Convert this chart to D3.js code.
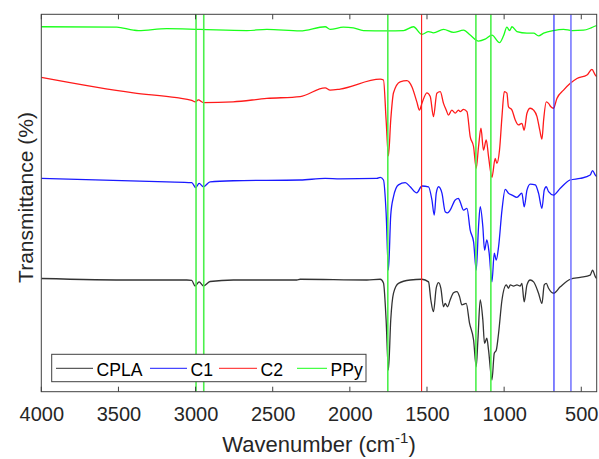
<!DOCTYPE html>
<html>
<head>
<meta charset="utf-8">
<script src="https://cdn.jsdelivr.net/npm/d3@7"></script>
<style>
  html, body { margin: 0; padding: 0; background: #fff; }
  text { font-family: "Liberation Sans", Arial, Helvetica, sans-serif; }
</style>
</head>
<body>
<svg id="chart" width="599" height="459"></svg>
<script>
// ---------------- data ----------------
const xTicks = [4000, 3500, 3000, 2500, 2000, 1500, 1000, 500];

const seriesNames = ["CPLA", "C1", "C2", "PPy"];
const seriesColors = ["#333333", "#1a1aff", "#ff1a1a", "#1aff1a"];

const wnCPLA = [4000,3403,3057,3025,3003,2977,2949,2906,2755,2344,2322,1890,1803,1782,1765,1750,1735,1717,1685,1609,1533,1490,1475,1458,1440,1425,1410,1393,1382,1367,1350,1328,1306,1289,1274,1246,1224,1198,1181,1170,1155,1138,1127,1112,1101,1079,1064,1051,1036,1014,986,972,960,939,917,896,885,870,852,831,809,777,755,740,727,712,680,636,571,507,442,427,409,400];
const tCPLA = [30.0,29.6,29.6,29.5,28.0,29.1,28.0,29.2,29.6,29.6,29.8,29.6,29.8,28.8,19.0,5.7,19.0,26.1,28.7,29.6,29.8,29.1,24.3,21.2,27.5,28.9,27.4,22.5,23.4,22.5,24.3,26.2,26.5,25.2,23.0,23.4,18.1,13.7,6.6,13.7,24.3,19.0,12.8,14.2,11.0,3.1,10.2,11.0,15.5,24.3,28.3,27.4,28.3,28.0,28.3,28.0,28.7,23.8,28.3,29.6,29.1,26.1,23.4,28.3,28.7,27.4,26.1,27.8,29.8,30.3,30.9,32.2,30.5,30.0];

const wnC1 = [4000,3187,3025,2999,2977,2949,2906,2755,2322,2160,2063,1825,1803,1782,1765,1750,1735,1717,1685,1641,1609,1566,1533,1490,1468,1453,1440,1425,1403,1382,1367,1350,1317,1296,1285,1263,1241,1220,1198,1181,1166,1155,1138,1127,1112,1097,1079,1064,1051,1036,1014,993,972,949,917,885,870,852,831,798,777,755,740,727,712,680,636,571,507,442,427,409,400];
const tC1 = [56.5,55.6,55.4,54.1,55.2,54.3,55.6,55.9,56.1,56.5,56.4,56.5,56.8,56.1,47.4,32.2,46.8,51.7,54.8,55.4,54.3,52.7,54.5,54.3,50.8,46.8,52.6,54.3,52.6,47.7,47.4,48.1,50.8,51.2,50.3,48.1,48.6,42.8,39.7,32.2,43.7,49.0,43.7,37.5,40.2,36.7,29.1,36.7,34.9,38.4,48.1,53.6,52.6,52.1,51.5,52.6,49.0,53.4,55.0,54.8,52.6,48.6,53.4,54.3,53.0,52.1,53.9,56.1,56.5,57.4,58.6,57.4,57.0];

const wnC2 = [4000,3403,3122,3025,3003,2982,2949,2757,2538,2322,2160,2128,2063,1803,1782,1765,1750,1735,1717,1674,1630,1598,1566,1549,1533,1501,1479,1458,1436,1414,1393,1375,1361,1339,1317,1296,1285,1263,1241,1220,1198,1181,1166,1150,1134,1116,1101,1079,1058,1047,1030,1014,999,982,972,949,928,907,885,870,852,831,809,787,769,755,744,727,712,697,680,658,615,571,528,463,431,409,400];
const tC2 = [83.3,79.2,77.9,77.2,76.8,77.3,76.6,76.8,77.7,78.2,80.5,79.9,80.2,82.8,82.6,72.0,62.5,72.0,79.2,82.1,82.4,80.8,76.8,74.6,76.4,79.2,78.2,72.9,79.1,79.5,76.4,74.6,73.3,74.6,73.8,74.6,74.2,74.8,74.2,67.6,64.9,59.2,64.9,69.8,64.0,66.7,62.3,56.8,61.8,60.5,64.0,72.9,79.5,79.1,75.5,74.6,72.0,70.7,71.1,69.3,73.8,75.1,74.6,72.9,69.3,66.9,72.0,76.8,76.4,75.5,75.1,77.7,79.9,81.7,83.0,83.9,85.4,83.9,83.5];

const wnPPy = [4000,3511,3403,3371,3187,2971,2668,2538,2322,2160,2128,2042,1977,1912,1760,1652,1588,1533,1490,1458,1393,1328,1263,1220,1166,1123,1079,1030,1004,982,965,949,917,852,809,777,744,680,615,560,485,442,409,400];
const tPPy = [96.7,96.6,95.8,95.7,96.2,96.0,95.7,96.0,95.6,96.7,96.0,96.6,96.4,95.7,95.6,95.7,96.7,94.7,95.4,95.1,96.0,95.2,95.8,94.5,92.9,93.4,94.5,92.5,94.3,96.6,95.7,96.7,95.4,95.0,95.0,94.3,95.0,95.7,96.0,95.7,95.8,96.3,96.9,97.0];

// reference (marker) lines
const greenMarks = [2997, 2947, 1754, 1183, 1086];
const redMarks = [1535];
const blueMarks = [677];
const lightBlueMarks = [567];

// ---------------- layout ----------------
const svg = d3.select("#chart");
const L = 41.3, R = 596.7, T = 14.3, B = 391.7;
const x = d3.scaleLinear().domain([4000, 400]).range([L, R]);
const y = d3.scaleLinear().domain([0, 100]).range([B, T]);
const axisColor = "#404040";
const textColor = "#262626";

svg.append("defs").append("clipPath").attr("id", "clip")
  .append("rect").attr("x", L).attr("y", T).attr("width", R - L).attr("height", B - T);

const plot = svg.append("g").attr("clip-path", "url(#clip)");

const series = [
  {name: "CPLA", wn: wnCPLA, t: tCPLA, color: seriesColors[0]},
  {name: "C1", wn: wnC1, t: tC1, color: seriesColors[1]},
  {name: "C2", wn: wnC2, t: tC2, color: seriesColors[2]},
  {name: "PPy", wn: wnPPy, t: tPPy, color: seriesColors[3]}
];

const line = d3.line()
  .x(d => x(d[0])).y(d => y(d[1]))
  .curve(d3.curveMonotoneX);

series.forEach(s => {
  plot.append("path")
    .datum(d3.zip(s.wn, s.t))
    .attr("fill", "none")
    .attr("stroke", s.color)
    .attr("stroke-width", 1.3)
    .attr("stroke-linejoin", "round")
    .attr("d", line);
});

function vlines(vals, color, width) {
  plot.selectAll(null).data(vals).enter().append("line")
    .attr("x1", d => x(d)).attr("x2", d => x(d))
    .attr("y1", T).attr("y2", B)
    .attr("stroke", color).attr("stroke-width", width);
}
vlines(greenMarks, "#4cf04c", 1.6);
vlines(redMarks, "#ff1a1a", 1.1);
vlines(blueMarks, "#1a1aff", 1.1);
vlines(lightBlueMarks, "#7a7aff", 1.6);

// ---------------- axes ----------------
const xAxisB = d3.axisBottom(x).tickValues(xTicks).tickSize(0).tickPadding(0).tickFormat(d3.format("d"));
const gx = svg.append("g").attr("transform", `translate(0,${B})`).call(xAxisB);
gx.select(".domain").remove();
gx.selectAll("text")
  .attr("y", 29).attr("dy", 0)
  .attr("fill", textColor)
  .style("font-size", "20px");

// inner tick marks bottom & top
svg.selectAll(".tb").data(xTicks).enter().append("line")
  .attr("x1", d => x(d)).attr("x2", d => x(d))
  .attr("y1", B).attr("y2", B - 5)
  .attr("stroke", axisColor).attr("stroke-width", 1);
svg.selectAll(".tt").data(xTicks).enter().append("line")
  .attr("x1", d => x(d)).attr("x2", d => x(d))
  .attr("y1", T).attr("y2", T + 5)
  .attr("stroke", axisColor).attr("stroke-width", 1);

// box
svg.append("rect")
  .attr("x", L).attr("y", T).attr("width", R - L).attr("height", B - T)
  .attr("fill", "none").attr("stroke", axisColor).attr("stroke-width", 1);

// axis titles
const xt = svg.append("text")
  .attr("x", (L + R) / 2).attr("y", 451.5)
  .attr("text-anchor", "middle")
  .attr("fill", textColor)
  .style("font-size", "22px");
xt.append("tspan").text("Wavenumber (cm");
xt.append("tspan").attr("dy", -9).style("font-size", "15px").text("-1");
xt.append("tspan").attr("dy", 9).text(")");

svg.append("text")
  .attr("transform", `translate(33,197.5) rotate(-90)`)
  .attr("text-anchor", "middle")
  .attr("fill", textColor)
  .style("font-size", "21px")
  .text("Transmittance (%)");

// ---------------- legend ----------------
const lg = svg.append("g");
lg.append("rect")
  .attr("x", 51.7).attr("y", 354.3).attr("width", 366 - 51.7).attr("height", 381.7 - 354.3)
  .attr("fill", "#fff").attr("stroke", axisColor).attr("stroke-width", 1);
const legLineX = [56, 150, 219, 297];
const legLineW = [37, 37, 38, 30];
series.forEach((s, i) => {
  lg.append("line")
    .attr("x1", legLineX[i]).attr("x2", legLineX[i] + legLineW[i])
    .attr("y1", 368.3).attr("y2", 368.3)
    .attr("stroke", s.color).attr("stroke-width", 1);
  lg.append("text")
    .attr("x", legLineX[i] + legLineW[i] + 3.5).attr("y", 376)
    .attr("fill", "#000")
    .style("font-size", "17.6px")
    .text(s.name);
});
</script>
</body>
</html>
